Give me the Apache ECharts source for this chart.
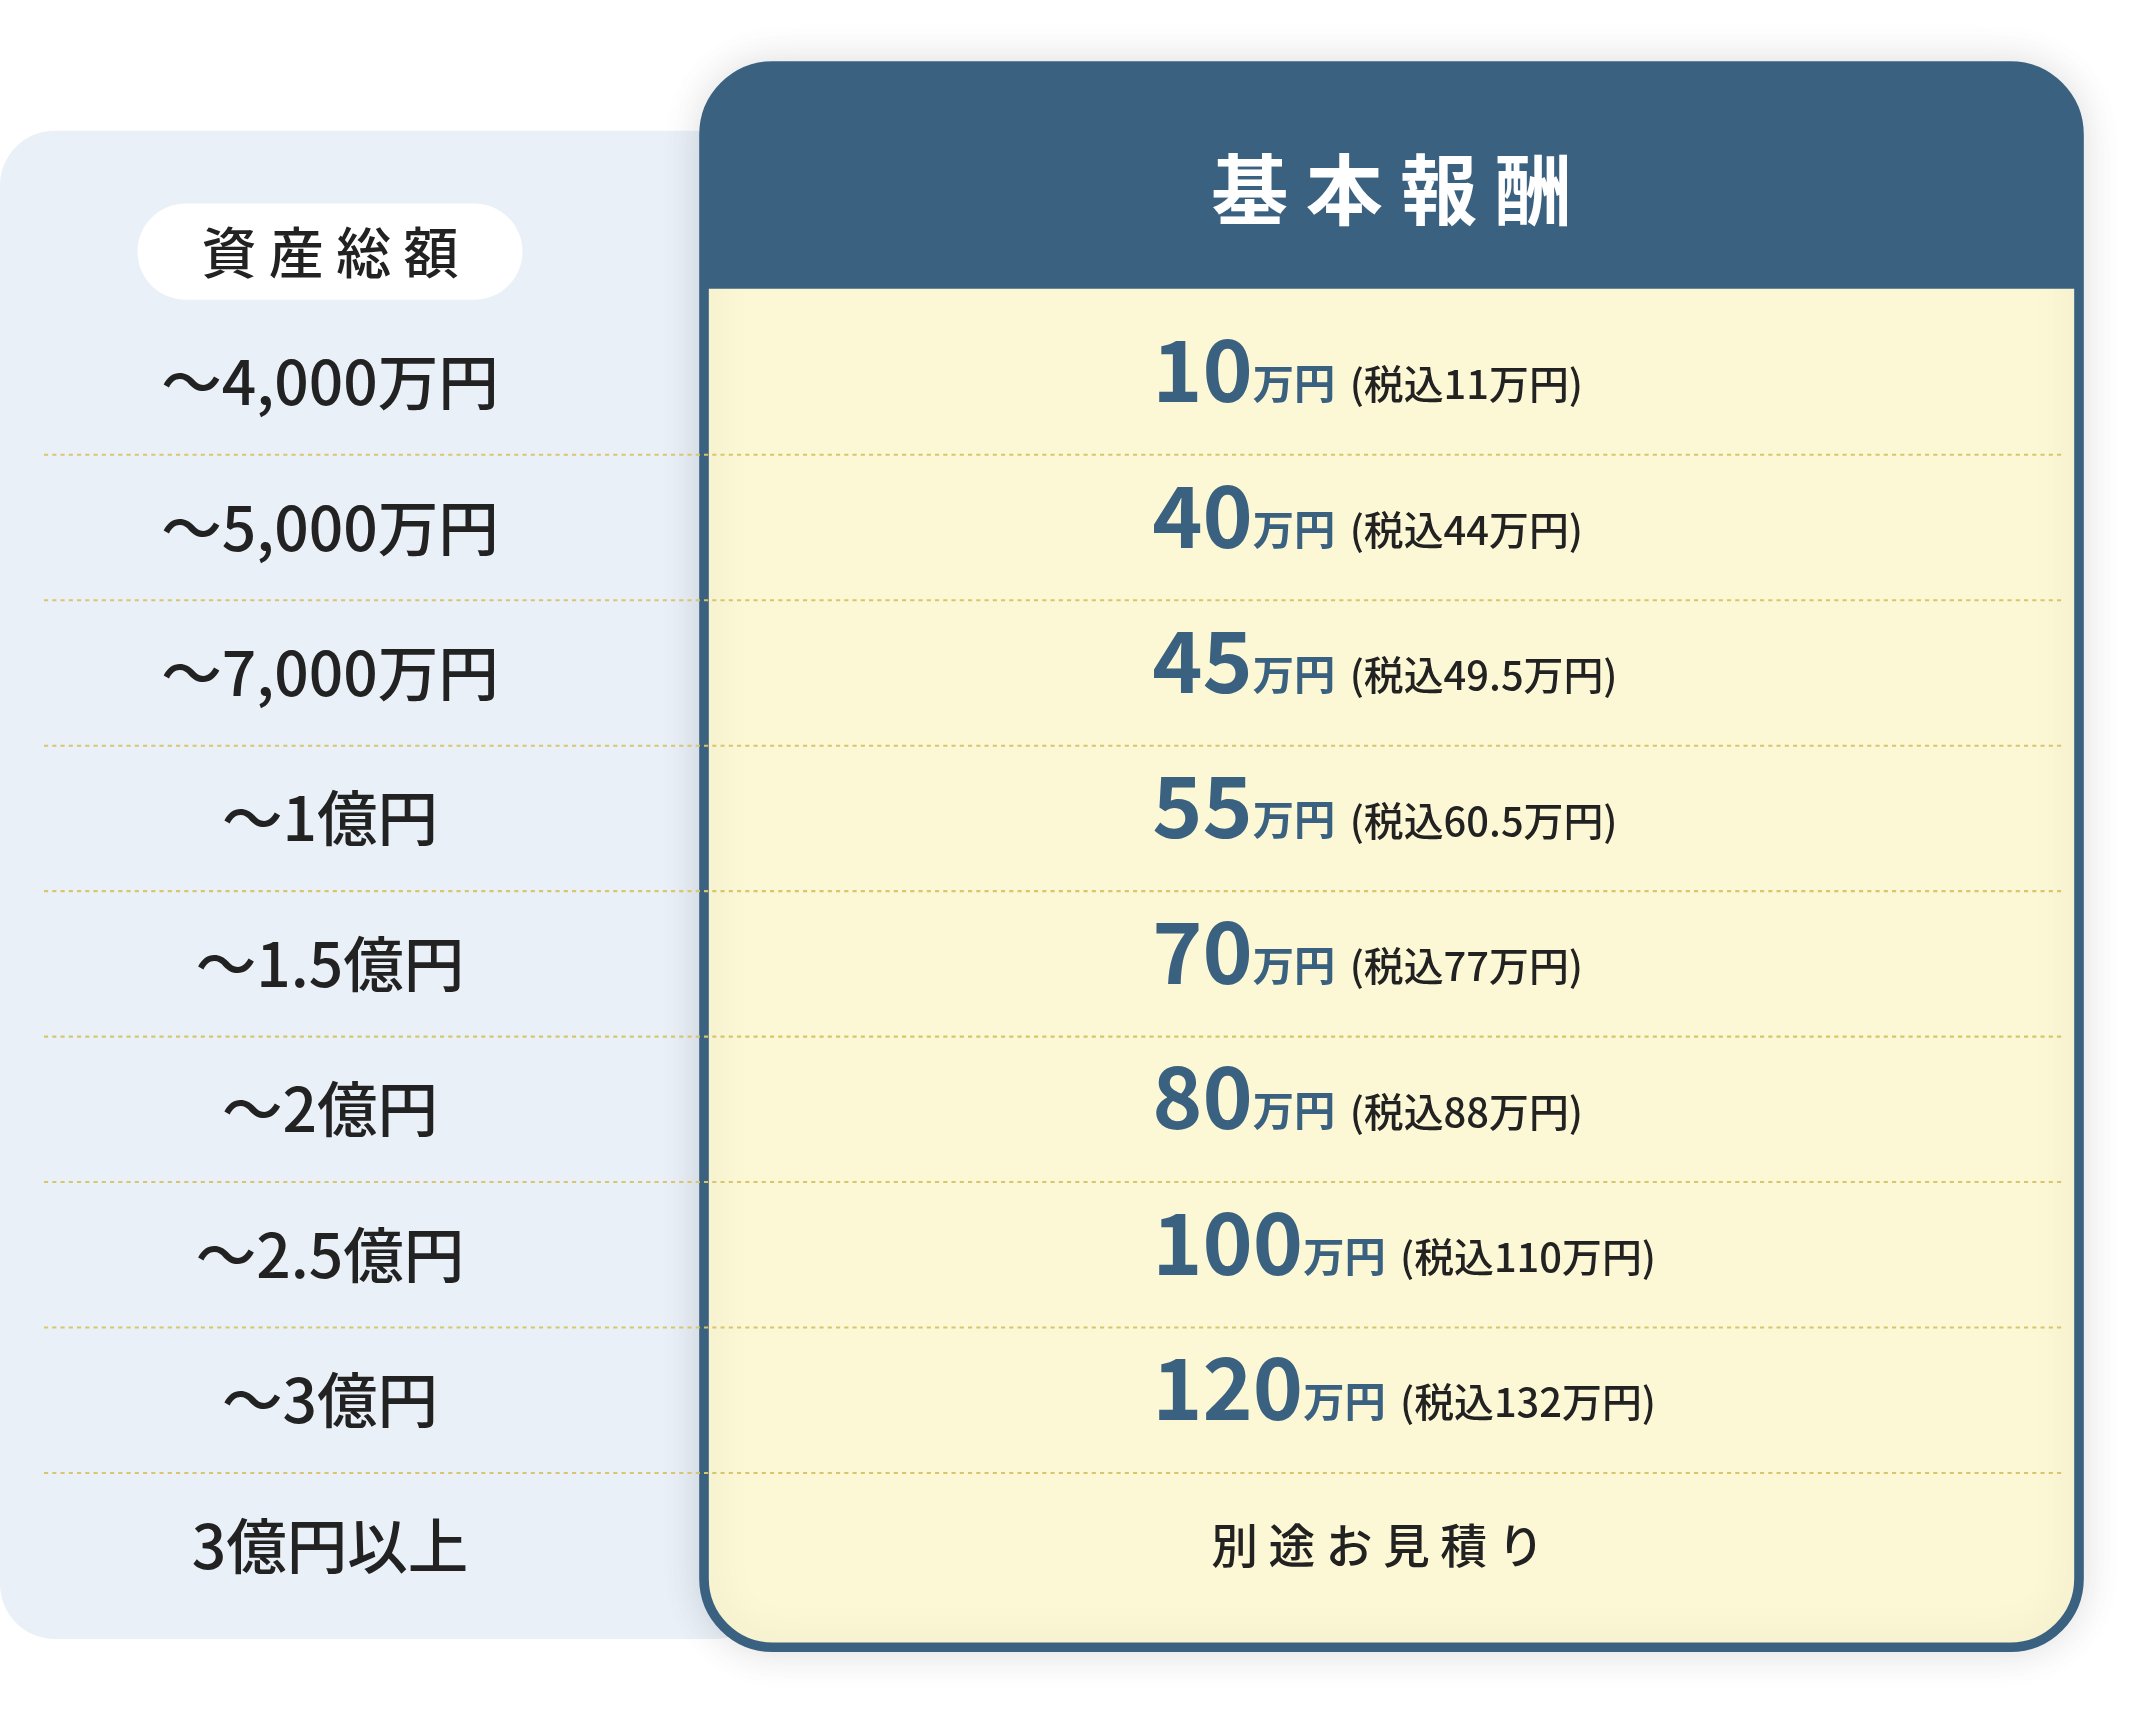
<!DOCTYPE html>
<html><head><meta charset="utf-8">
<script src="https://cdn.jsdelivr.net/npm/echarts@6/dist/echarts.min.js"></script>
<style>html,body{margin:0;padding:0;background:#fff}#c{width:2156px;height:1724px}</style>
</head><body><div id="c"></div>
<script>
const assetLabels=['～4,000万円','～5,000万円','～7,000万円','～1億円','～1.5億円','～2億円','～2.5億円','～3億円','3億円以上'];
const feeValues=[10,40,45,55,70,80,100,120,null];
const taxValues=['11','44','49.5','60.5','77','88','110','132',null];
const otherText='別途お見積り';
const headerLeft='資産総額';
const headerRight='基本報酬';

const s=2156/1568;
const F='"Noto Sans CJK JP","Noto Sans",sans-serif';
const BLUE='#3B6180';
const chart=echarts.init(document.getElementById('c'),null,{renderer:'canvas'});
chart.setOption({
  backgroundColor:'#fff',
  animation:false,
  graphic:[
    {type:'rect',shape:{x:0,y:95*s,width:560*s,height:1097*s,r:40*s},style:{fill:'#EAF0F7'},z:0},
    {type:'rect',shape:{x:512*s,y:48*s,width:1000*s,height:1150*s,r:50*s},style:{fill:'#FCF7D4',stroke:BLUE,lineWidth:7*s,shadowBlur:30*s,shadowColor:'rgba(0,0,0,0.12)'},z:1},
    {type:'rect',shape:{x:512*s,y:48*s,width:1000*s,height:162*s,r:[50*s,50*s,0,0]},style:{fill:BLUE},z:2},
    {type:'rect',shape:{x:100*s,y:148*s,width:280*s,height:70*s,r:35*s},style:{fill:'#fff'},z:2},
    {type:'text',x:240*s,y:183*s,style:{text:headerLeft.split('').join(' '),font:`500 ${40*s}px ${F}`,fill:'#222',align:'center',verticalAlign:'middle'},z:3},
    {type:'text',x:1012*s,y:138*s,style:{text:headerRight.split('').join(' '),font:`bold ${56*s}px ${F}`,fill:'#fff',align:'center',verticalAlign:'middle'},z:3}
  ],
  grid:{left:0,right:0,top:225*s,height:952*s},
  xAxis:{type:'value',min:0,max:2156,show:false},
  yAxis:{type:'category',inverse:true,data:assetLabels,show:false},
  series:[{
    type:'custom',z:5,
    data:assetLabels.map((l,i)=>[0,i]),
    renderItem:function(params,api){
      const i=api.value(1);
      const y=api.coord([0,i])[1];
      const bh=api.size([0,1])[1];
      const ch=[];
      ch.push({type:'text',style:{x:240*s,y:y,text:assetLabels[i],font:`500 ${44*s}px ${F}`,fill:'#222',align:'center',verticalAlign:'middle'}});
      if(feeValues[i]!==null){
        ch.push({type:'text',style:{x:838*s,y:y+22*s,text:`{n|${feeValues[i]}}{u|万円} {t|(税込${taxValues[i]}万円)}`,align:'left',verticalAlign:'bottom',
          rich:{n:{font:`bold ${62*s}px ${F}`,fill:BLUE,verticalAlign:'bottom',lineHeight:70*s},
                u:{font:`bold ${30*s}px ${F}`,fill:BLUE,verticalAlign:'bottom',padding:[0,0,6*s,0]},
                t:{font:`500 ${29*s}px ${F}`,fill:'#222',verticalAlign:'bottom',padding:[0,0,6*s,8*s]}}}});
      } else {
        ch.push({type:'text',style:{x:1002*s,y:y,text:otherText.split('').join(' '),font:`500 ${34*s}px ${F}`,fill:'#222',align:'center',verticalAlign:'middle'}});
      }
      if(i<assetLabels.length-1){
        ch.push({type:'line',shape:{x1:32*s,y1:y+bh/2,x2:1500*s,y2:y+bh/2},style:{stroke:'#D8C66E',lineWidth:1.5*s,lineDash:[3*s,3*s]}});
      }
      return {type:'group',children:ch};
    }
  }]
});
</script></body></html>
